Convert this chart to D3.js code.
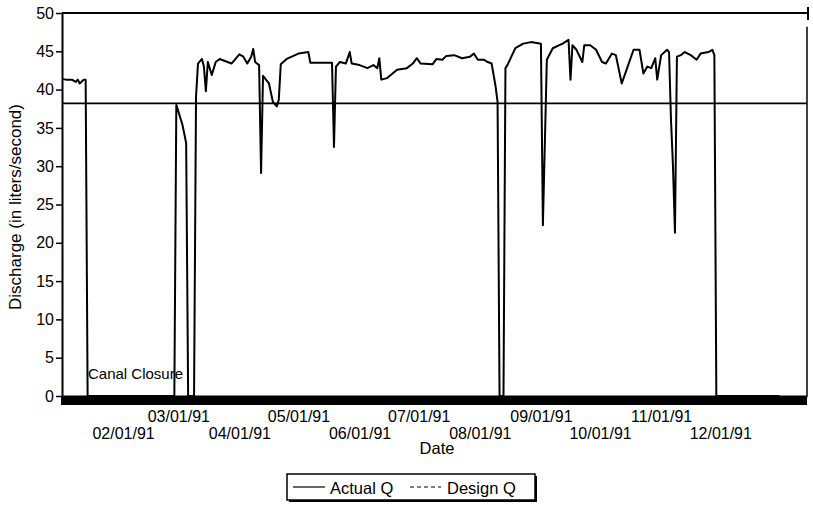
<!DOCTYPE html>
<html>
<head>
<meta charset="utf-8">
<script src="https://cdn.jsdelivr.net/npm/d3@7/dist/d3.min.js"></script>
<style>
  html, body { margin: 0; padding: 0; background: #fff; }
  svg { display: block; }
  text { font-family: "Liberation Sans", Arial, Helvetica, sans-serif; fill: #000; }
</style>
</head>
<body>
<svg id="chart" width="813" height="505"></svg>
<script>
// ---- data ----
const actualDates = [
  "1991-01-01","1991-01-03","1991-01-06","1991-01-08","1991-01-09","1991-01-10","1991-01-12","1991-01-13","1991-01-14",
  "1991-02-27","1991-02-28","1991-03-03","1991-03-04","1991-03-05","1991-03-06",
  "1991-03-09","1991-03-10","1991-03-11","1991-03-13","1991-03-14","1991-03-15","1991-03-16","1991-03-18","1991-03-20",
  "1991-03-22","1991-03-26","1991-03-28","1991-04-01","1991-04-03","1991-04-05","1991-04-07","1991-04-08","1991-04-09",
  "1991-04-11","1991-04-12","1991-04-13","1991-04-16","1991-04-18","1991-04-20","1991-04-21","1991-04-22","1991-04-25",
  "1991-05-01","1991-05-06","1991-05-07","1991-05-18","1991-05-19","1991-05-20","1991-05-22","1991-05-25","1991-05-27",
  "1991-05-28","1991-06-01","1991-06-05","1991-06-08","1991-06-10","1991-06-11","1991-06-12","1991-06-15","1991-06-20",
  "1991-06-25","1991-06-28","1991-06-30","1991-07-02","1991-07-08","1991-07-10","1991-07-13","1991-07-15","1991-07-19",
  "1991-07-23","1991-07-27","1991-07-29","1991-07-31","1991-08-03","1991-08-05","1991-08-07","1991-08-09","1991-08-10",
  "1991-08-11","1991-08-13","1991-08-14","1991-08-15","1991-08-17","1991-08-19","1991-08-23","1991-08-27","1991-09-01",
  "1991-09-02","1991-09-04","1991-09-07","1991-09-12","1991-09-15","1991-09-16","1991-09-17","1991-09-19","1991-09-22",
  "1991-09-23","1991-09-26","1991-09-29","1991-10-02","1991-10-04","1991-10-07","1991-10-09","1991-10-12","1991-10-15",
  "1991-10-18","1991-10-21","1991-10-23","1991-10-25","1991-10-27","1991-10-29","1991-10-30","1991-11-01","1991-11-04",
  "1991-11-05","1991-11-06","1991-11-07","1991-11-08","1991-11-09","1991-11-11","1991-11-13","1991-11-16","1991-11-19",
  "1991-11-21","1991-11-25","1991-11-27","1991-11-28","1991-11-29","1991-12-31"
];
const actualQ = [
  41.4,41.3,41.3,41.0,41.3,40.8,41.3,41.3,0,
  0,38.0,35.5,34.3,33.0,0,
  0,39.0,43.4,44.0,43.0,39.8,43.6,41.9,43.6,
  44.0,43.6,43.4,44.6,44.3,43.4,44.3,45.3,43.6,
  43.2,29.1,41.8,40.8,38.4,37.8,38.7,43.3,44.0,
  44.7,44.9,43.5,43.5,32.5,43.0,43.6,43.4,44.9,
  43.4,43.2,42.8,43.2,42.8,44.1,41.3,41.5,42.6,
  42.8,43.4,44.1,43.4,43.3,44.0,43.9,44.4,44.5,
  44.1,44.3,44.7,43.9,43.9,43.6,43.4,40.4,38.4,
  0,0,42.8,43.2,44.3,45.4,46.0,46.2,46.0,
  22.3,43.9,45.4,46.0,46.5,41.3,45.8,45.2,43.6,
  45.8,45.8,45.2,43.6,43.4,44.7,44.5,40.8,43.0,
  45.2,45.2,42.1,43.0,42.8,44.1,41.3,44.5,45.2,
  44.9,36.0,30.0,21.3,44.3,44.5,44.9,44.5,43.9,
  44.7,44.9,45.2,44.5,0,0
];
const designQ = 38.2;
const yTicks = [0, 5, 10, 15, 20, 25, 30, 35, 40, 45, 50];
const xLabelDates = ["1991-02-01","1991-03-01","1991-04-01","1991-05-01","1991-06-01","1991-07-01",
                     "1991-08-01","1991-09-01","1991-10-01","1991-11-01","1991-12-01"];
const xDomain = ["1991-01-01", "1992-01-14"];
const seriesNames = ["Actual Q", "Design Q"];
const yTitle = "Discharge (in liters/second)";
const xTitle = "Date";
const note = "Canal Closure";

// ---- drawing ----
const parse = d3.timeParse("%Y-%m-%d");
const fmt = d3.timeFormat("%m/%d/%y");
const svg = d3.select("#chart");
svg.append("rect").attr("width", 813).attr("height", 505).attr("fill", "#fff");

const x = d3.scaleTime().domain(xDomain.map(parse)).range([62, 807]);
const y = d3.scaleLinear().domain([0, 50]).range([396, 13]);
const [x0, x1] = x.range();

// daily tick band
const dayAxis = d3.axisBottom(x)
  .tickValues(d3.timeDay.range(x.domain()[0], x.domain()[1]))
  .tickSize(9).tickSizeOuter(0).tickFormat("");
const gDay = svg.append("g").attr("transform", `translate(0,${y(0)})`).call(dayAxis);
gDay.select(".domain").attr("stroke", "#000").attr("stroke-width", 2);
gDay.selectAll(".tick line").attr("stroke", "#000").attr("stroke-width", 2.4).attr("shape-rendering", "crispEdges");

// month labels in two staggered rows
const labelAxis = d3.axisBottom(x)
  .tickValues(xLabelDates.map(parse)).tickSize(0).tickFormat(fmt);
const gLab = svg.append("g").attr("transform", `translate(0,${y(0)})`).call(labelAxis);
gLab.select(".domain").remove();
gLab.selectAll(".tick text")
  .attr("dy", null)
  .attr("y", (d, i) => (i % 2 === 0 ? 43 : 26))
  .style("font-size", "16px")
  .attr("font-family", null);

// y axis
const yAxis = d3.axisLeft(y).tickValues(yTicks).tickSize(6).tickPadding(2).tickSizeOuter(0);
const gY = svg.append("g").attr("transform", `translate(${x0},0)`).call(yAxis);
gY.select(".domain").attr("stroke", "#000").attr("stroke-width", 2);
gY.selectAll(".tick line").attr("stroke", "#000").attr("stroke-width", 1.5);
gY.selectAll(".tick text").style("font-size", "16px").attr("font-family", null);

// top frame line with end tick, right frame line
svg.append("line").attr("x1", x0).attr("x2", x1 + 1).attr("y1", y(50)).attr("y2", y(50))
  .attr("stroke", "#000").attr("stroke-width", 2.2);
svg.append("line").attr("x1", x1 + 1).attr("x2", x1 + 1).attr("y1", y(50) - 6).attr("y2", y(50) + 7)
  .attr("stroke", "#000").attr("stroke-width", 2);
svg.append("line").attr("x1", x1).attr("x2", x1).attr("y1", y(48.2)).attr("y2", y(0))
  .attr("stroke", "#000").attr("stroke-width", 1.5);

// design Q line
svg.append("line").attr("x1", x0).attr("x2", x1).attr("y1", y(designQ)).attr("y2", y(designQ))
  .attr("stroke", "#000").attr("stroke-width", 1.6);

// actual Q line
const pts = actualDates.map((d, i) => [parse(d), actualQ[i]]);
const line = d3.line().x(d => x(d[0])).y(d => y(d[1]));
svg.append("path").datum(pts).attr("d", line)
  .attr("fill", "none").attr("stroke", "#000").attr("stroke-width", 2).attr("stroke-linejoin", "round");

// annotation
svg.append("text").attr("x", 88).attr("y", 379).style("font-size", "15px").text(note);

// axis titles
svg.append("text").attr("transform", "translate(21,207) rotate(-90)")
  .attr("text-anchor", "middle").style("font-size", "17px").text(yTitle);
svg.append("text").attr("x", 437).attr("y", 454).attr("text-anchor", "middle")
  .style("font-size", "16.5px").text(xTitle);

// legend
const lg = svg.append("g");
lg.append("rect").attr("x", 289).attr("y", 476).attr("width", 248).attr("height", 26).attr("fill", "#000");
lg.append("rect").attr("x", 287).attr("y", 474).attr("width", 248).attr("height", 26)
  .attr("fill", "#fff").attr("stroke", "#000").attr("stroke-width", 1.5);
lg.append("line").attr("x1", 293).attr("x2", 325).attr("y1", 487).attr("y2", 487)
  .attr("stroke", "#000").attr("stroke-width", 1.2);
lg.append("text").attr("x", 330).attr("y", 494).style("font-size", "16.5px").text(seriesNames[0]);
lg.append("line").attr("x1", 410).attr("x2", 441).attr("y1", 487).attr("y2", 487)
  .attr("stroke", "#000").attr("stroke-width", 1.2).attr("stroke-dasharray", "4,3");
lg.append("text").attr("x", 447).attr("y", 494).style("font-size", "16.5px").text(seriesNames[1]);
</script>
</body>
</html>
